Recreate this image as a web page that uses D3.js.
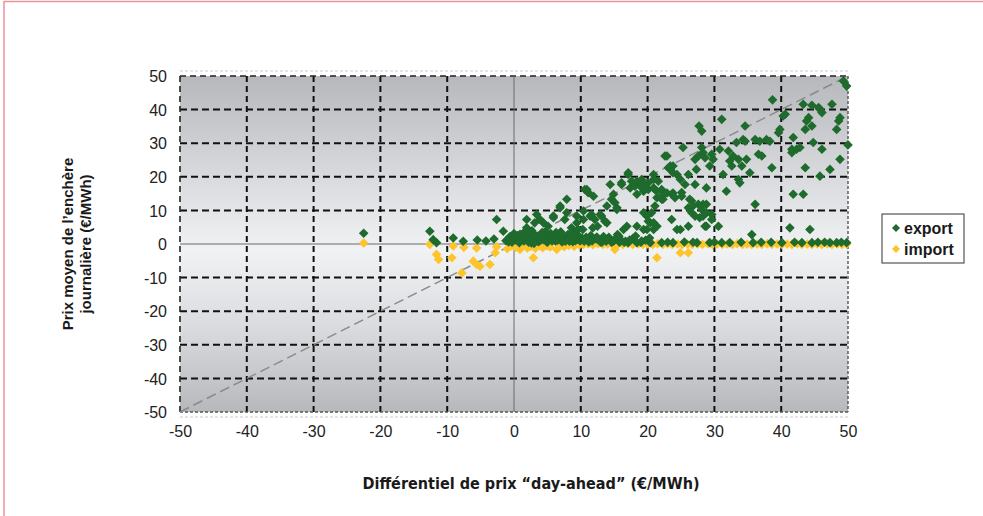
<!DOCTYPE html>
<html>
<head>
<meta charset="utf-8">
<script src="https://cdn.jsdelivr.net/npm/d3@7"></script>
<style>
  html, body { margin: 0; padding: 0; background: #fff; }
  svg { display: block; }
</style>
</head>
<body>
<svg id="chart" width="983" height="516"></svg>
<script>
// Axis ticks
const xTicks = [-50, -40, -30, -20, -10, 0, 10, 20, 30, 40, 50];
const yTicks = [-50, -40, -30, -20, -10, 0, 10, 20, 30, 40, 50];

// Series names and colours
const seriesNames = ["export", "import"];
const seriesColors = ["#1e6b2d", "#fdc42c"];

// export: day-ahead price differential (x) vs mean daily auction price (y)
const exportX = [
  -22.5, -12.6, -12.1, -11.6, -9.1, -7.6, -5.5, -4.2, -3.0, -2.6, -1.6, -1.2, -0.6, -0.3,
  0.2, 0.5, 0.8, 1.0, 1.3, 1.5, 1.9, 1.9, 2.1, 2.4, 2.6, 2.9, 3.1, 3.1, 3.4, 3.5, 3.7, 3.9,
  4.0, 4.2, 4.4, 4.5, 4.8, 5.0, 5.1, 5.3, 5.5, 5.9, 5.9, 6.0, 6.2, 6.4, 6.7, 6.9, 6.9, 7.0,
  7.2, 7.4, 7.6, 7.8, 7.9, 7.9, 8.1, 8.3, 8.6, 8.7, 9.0, 9.2, 9.4, 9.4, 9.6, 9.7, 10.0,
  10.3, 10.4, 10.4, 10.6, 10.9, 11.1, 10.8, 11.4, 11.6, 11.8, 11.9, 12.1, 12.3, 12.5, 12.9,
  13.1, 13.4, 13.6, 13.9, 13.9, 14.4, 14.6, 14.6, 14.9, 15.1, 15.1, 15.4, 15.4, 16.1, 16.1,
  16.4, 16.9, 17.1, 17.1, 17.1, 17.4, 17.6, 18.1, 18.4, 18.4, 18.4, 18.4, 18.9, 19.1, 19.4,
  19.4, 19.4, 19.6, 19.9, 19.9, 20.1, 20.1, 20.1, 20.4, 20.4, 20.6, 20.9, 20.9, 20.9, 20.9,
  20.9, 21.1, 21.1, 21.4, 21.4, 21.4, 21.6, 22.1, 22.1, 22.1, 22.1, 22.3, 22.6, 22.9, 22.9,
  23.1, 23.4, 23.4, 23.6, 23.6, 23.8, 23.8, 23.8, 23.8, 24.1, 24.4, 24.4, 24.9, 24.9, 25.1,
  25.1, 25.3, 25.6, 26.1, 26.1, 26.1, 26.3, 26.6, 26.6, 26.8, 27.1, 27.1, 27.1, 27.3, 27.4,
  27.6, 27.6, 27.7, 27.8, 28.1, 28.1, 28.1, 28.3, 28.3, 28.3, 28.6, 28.6, 28.8, 28.8, 28.8,
  28.8, 29.3, 29.3, 29.6, 29.6, 29.6, 29.8, 30.6, 30.8, 31.1, 31.1, 31.3, 31.8, 32.1, 32.3,
  32.3, 32.6, 32.8, 33.3, 33.6, 33.6, 33.8, 34.1, 34.3, 34.6, 34.6, 34.8, 35.3, 35.6, 35.8,
  36.1, 36.1, 36.6, 36.8, 37.1, 37.8, 38.3, 38.6, 38.7, 39.6, 39.8, 40.1, 40.3, 40.6, 41.3,
  41.6, 41.6, 41.8, 41.8, 42.3, 42.8, 43.1, 43.3, 43.3, 43.6, 43.6, 43.8, 44.1, 44.3, 44.6,
  44.6, 44.6, 44.8, 45.6, 45.8, 45.8, 46.1, 46.1, 47.3, 47.3, 47.6, 48.3, 48.3, 48.6, 48.8,
  48.8, 49.3, 49.8, 49.8, 50.0,
  11.2, 13.0, 15.8, 19.0, 23.0, 25.5, 26.8, 30.0, 34.0, 37.0, 38.5, 42.0, 45.5, 46.5, 49.0,
  10.5, 11.5, 12.8, 13.8, 14.2, 15.5, 16.0, 16.7, 17.8, 19.7,
  -0.8, -0.2, 0.4, 0.7, 1.1, 1.7, 2.2, 2.8, 3.3, 3.6, 4.1, 4.6, 4.9, 5.2, 5.7, 6.1, 6.5,
  6.8, 7.3, 7.7, 8.0, 8.4, 8.8, 9.1, 9.5, 9.9, 0.0, 0.9, 1.6, 2.7, 3.0, 4.7, 5.6, 6.3,
  7.1, 8.5, 9.3, 10.2, 10.9, 11.7, 12.4, 13.2, 14.0, 14.9, 15.7, 16.5, 17.3, 18.2, 19.1, 20.3
];
const exportY = [
  3.2, 3.8, 1.3, 0.4, 1.8, 0.8, 1.2, 0.9, 1.5, 7.3, 3.8, 1.0, 2.2, 0.5,
  1.2, 2.5, 0.4, 1.8, 3.0, 0.9, 7.3, 4.8, 2.2, 1.1, 0.3, 2.9, 6.3, 1.6, 8.8, 2.3, 0.7, 7.3,
  1.9, 3.4, 6.3, 1.2, 2.6, 0.5, 5.3, 1.7, 3.1, 7.8, 8.3, 1.8, 0.9, 2.7, 1.4, 10.8, 11.3, 3.6,
  0.6, 2.1, 7.3, 1.3, 13.3, 9.3, 2.8, 0.8, 4.8, 1.9, 3.2, 1.0, 8.3, 6.3, 4.3, 2.4, 1.2,
  4.3, 9.8, 7.3, 16.2, 16.2, 15.3, 2.0, 8.3, 8.8, 4.8, 14.2, 7.3, 1.5, 5.3, 8.8,
  8.3, 2.2, 6.8, 6.3, 11.3, 17.7, 13.3, 0.5, 14.8, 12.3, 1.4, 10.3, 10.8, 17.7, 18.2,
  4.3, 5.3, 20.7, 21.2, 0.4, 16.7, 18.7, 17.2, 14.8, 18.7, 5.3, 0.4, 17.2, 19.2, 15.7,
  9.3, 4.3, 17.7, 8.3, 4.3, 16.2, 18.2, 6.8, 6.3, 0.4, 9.3, 20.7, 16.7, 4.3, 6.3,
  19.2, 11.3, 16.2, 13.8, 15.7, 5.3, 18.7, 16.2, 13.3, 14.2, 0.4, 13.3, 26.2, 15.2, 26.2,
  22.7, 22.2, 23.2, 7.3, 14.8, 21.2, 15.2, 23.2, 0.4, 13.8, 4.3, 20.7, 19.2, 4.3, 15.3,
  14.2, 28.7, 17.7, 20.7, 10.8, 5.3, 13.3, 12.8, 9.3, 11.3, 17.7, 25.2, 8.3, 22.2, 0.4,
  26.2, 11.8, 35.1, 7.8, 33.6, 28.7, 10.3, 27.2, 8.3, 11.8, 25.7, 5.3, 16.7, 11.8, 9.3,
  5.3, 23.2, 0.4, 26.7, 8.8, 7.3, 25.2, 5.3, 28.2, 37.1, 0.4, 20.7, 15.7, 27.7, 0.4,
  24.7, 23.2, 26.2, 30.2, 25.2, 19.2, 18.2, 23.2, 31.1, 35.1, 30.6, 25.2, 21.2, 2.8, 0.4,
  31.1, 11.8, 26.7, 30.6, 26.2, 31.1, 30.6, 22.7, 42.9, 33.1, 34.1, 0.4, 38.1, 38.6, 4.8,
  27.2, 28.2, 14.8, 31.7, 28.2, 28.7, 0.4, 41.6, 14.8, 34.1, 22.7, 36.6, 37.6, 4.3, 41.3,
  35.1, 0.4, 30.2, 40.6, 40.1, 20.2, 28.2, 39.1, 22.2, 0.4, 41.6, 34.1, 0.4, 36.6, 37.6,
  25.2, 48.5, 47.0, 0.4, 29.5,
  0.6, 0.5, 0.5, 0.5, 0.5, 0.6, 0.5, 0.5, 0.5, 0.5, 0.5, 0.5, 0.5, 0.5, 0.5,
  0.8, 2.5, 1.0, 0.8, 2.0, 2.8, 1.2, 0.8, 1.6, 1.1,
  0.6, 1.7, 2.0, 0.9, 2.6, 1.4, 0.5, 1.6, 2.2, 0.8, 1.3, 2.4, 0.7, 1.9, 0.9, 2.8, 1.1,
  2.0, 1.5, 0.8, 2.6, 1.6, 0.7, 2.0, 1.4, 0.9, 3.1, 2.9, 3.5, 3.9, 0.2, 3.6, 2.3, 3.4,
  2.9, 3.0, 2.7, 1.8, 1.3, 0.9, 2.1, 0.6, 1.5, 0.8, 2.3, 0.5, 1.2, 2.4, 0.9, 1.8
];

// import
const importX = [
  -22.5, -12.6, -11.6, -11.3, -9.3, -9.1, -7.8, -6.1, -5.6, -5.1, -3.6, -2.8, -7.5, -5.6,
  -2.6, -1.0, -0.4, 0.3, 0.9, 1.4, 2.0, 2.5, 2.9, 3.2, 3.8, 4.3, 4.9, 5.4, 6.4, 6.9, 7.5,
  8.2, 9.0, 9.8,
  10.4, 11.1, 11.8, 12.6, 13.3, 14.0, 14.8, 15.1, 15.6, 16.3, 17.0, 17.8, 18.6, 19.3, 20.0,
  20.8, 21.4, 21.5, 22.3, 23.0, 23.7, 24.5, 24.9, 25.2, 26.0, 26.1, 26.7, 27.5, 28.2, 29.0,
  29.7, 30.4, 31.2, 31.9, 32.7, 33.4, 34.2, 34.9, 35.6, 36.4, 37.1, 37.9, 38.6, 39.4, 40.1,
  40.9, 41.6, 42.4, 43.1, 43.9, 44.6, 45.4, 46.1, 46.9, 47.6, 48.4, 49.1, 49.8
];
const importY = [
  0.3, -0.1, -3.1, -4.6, -4.1, -0.6, -8.6, -5.1, -6.1, -6.6, -6.1, -2.6, -1.0, -1.2,
  -0.8, -1.4, -0.6, -1.0, -1.6, -0.5, -1.2, -0.7, -4.1, -1.3, -0.6, -1.1, -0.5, -0.9, -1.6, -0.5, -0.8,
  -0.4, -0.7, -0.3,
  -0.1, 0.0, -0.2, 0.1, -0.1, 0.0, -0.2, -1.6, 0.0, -0.1, 0.1, -0.1, 0.0, -0.1, 0.0,
  -0.1, -4.1, 0.1, -0.1, 0.0, -0.1, 0.0, -2.6, -0.1, 0.0, -2.6, -0.1, 0.0, -0.1, 0.1,
  -0.1, 0.0, -0.1, 0.0, -0.1, 0.1, -0.1, 0.0, -0.1, 0.0, -0.1, 0.1, -0.1, 0.0, -0.1,
  0.0, -0.1, 0.1, -0.1, 0.0, -0.1, 0.0, -0.1, 0.1, -0.1, 0.0, -0.1, 0.0
];

const svg = d3.select("#chart");

// page frame
svg.append("line").attr("x1", 4).attr("y1", 1.5).attr("x2", 983).attr("y2", 1.5)
  .attr("stroke", "#e8929b").attr("stroke-width", 1.5);
svg.append("line").attr("x1", 4).attr("y1", 1).attr("x2", 4).attr("y2", 516)
  .attr("stroke", "#e8929b").attr("stroke-width", 1.5);

const plot = { left: 180, right: 848, top: 76, bottom: 412 };

const x = d3.scaleLinear().domain([-50, 50]).range([plot.left, plot.right]);
const y = d3.scaleLinear().domain([-50, 50]).range([plot.bottom, plot.top]);

// vertical gradient background of the plot area
const defs = svg.append("defs");
const grad = defs.append("linearGradient").attr("id", "bg")
  .attr("x1", 0).attr("y1", 0).attr("x2", 0).attr("y2", 1);
grad.append("stop").attr("offset", "0%").attr("stop-color", "#b6b8bc");
grad.append("stop").attr("offset", "30%").attr("stop-color", "#d8dadd");
grad.append("stop").attr("offset", "52%").attr("stop-color", "#f1f2f4");
grad.append("stop").attr("offset", "75%").attr("stop-color", "#dadbde");
grad.append("stop").attr("offset", "100%").attr("stop-color", "#b6b8bc");

// faint shadow strokes outside the plot
svg.append("line").attr("x1", plot.left).attr("x2", plot.right + 2)
  .attr("y1", plot.top - 5).attr("y2", plot.top - 5)
  .attr("stroke", "#e4e4e6").attr("stroke-width", 2).attr("stroke-dasharray", "3,2");
svg.append("line").attr("x1", plot.left).attr("x2", plot.right + 2)
  .attr("y1", plot.bottom + 5).attr("y2", plot.bottom + 5)
  .attr("stroke", "#e4e4e6").attr("stroke-width", 2).attr("stroke-dasharray", "3,2");

svg.append("rect")
  .attr("x", plot.left).attr("y", plot.top)
  .attr("width", plot.right - plot.left).attr("height", plot.bottom - plot.top)
  .attr("fill", "url(#bg)");

// dashed grid
const grid = svg.append("g");
grid.selectAll("line.v").data(xTicks.filter(d => d !== 0 && d !== -50 && d !== 50)).join("line")
  .attr("x1", d => x(d)).attr("x2", d => x(d))
  .attr("y1", plot.top).attr("y2", plot.bottom)
  .attr("stroke", "#111").attr("stroke-width", 2).attr("stroke-dasharray", "6,4");
grid.selectAll("line.h").data(yTicks.filter(d => d !== 0 && d !== -50 && d !== 50)).join("line")
  .attr("y1", d => y(d)).attr("y2", d => y(d))
  .attr("x1", plot.left).attr("x2", plot.right)
  .attr("stroke", "#111").attr("stroke-width", 2).attr("stroke-dasharray", "7,4");

// plot outline
svg.append("line").attr("x1", plot.left).attr("x2", plot.right)
  .attr("y1", plot.top).attr("y2", plot.top)
  .attr("stroke", "#222").attr("stroke-width", 1.6).attr("stroke-dasharray", "6,4");
svg.append("line").attr("x1", plot.left).attr("x2", plot.left)
  .attr("y1", plot.top).attr("y2", plot.bottom)
  .attr("stroke", "#222").attr("stroke-width", 1.6).attr("stroke-dasharray", "6,4");
svg.append("line").attr("x1", plot.right).attr("x2", plot.right)
  .attr("y1", plot.top).attr("y2", plot.bottom)
  .attr("stroke", "#555").attr("stroke-width", 1.4).attr("stroke-dasharray", "3,2");
svg.append("line").attr("x1", plot.left).attr("x2", plot.right)
  .attr("y1", plot.bottom).attr("y2", plot.bottom)
  .attr("stroke", "#555").attr("stroke-width", 1.4).attr("stroke-dasharray", "3,2");

// zero axes
svg.append("line").attr("x1", x(0)).attr("x2", x(0))
  .attr("y1", plot.top).attr("y2", plot.bottom)
  .attr("stroke", "#6b6b6b").attr("stroke-width", 1);
svg.append("line").attr("x1", plot.left).attr("x2", plot.right)
  .attr("y1", y(0)).attr("y2", y(0))
  .attr("stroke", "#6b6b6b").attr("stroke-width", 1);

// y = x reference line
svg.append("line")
  .attr("x1", x(-50)).attr("y1", y(-50)).attr("x2", x(50)).attr("y2", y(50))
  .attr("stroke", "#8a8a8a").attr("stroke-width", 1.5).attr("stroke-dasharray", "10,5");

// diamond markers
const diamond = "M0,-4.8L4.8,0L0,4.8L-4.8,0Z";
const importPts = importX.map((v, i) => [v, importY[i]]);
const exportPts = exportX.map((v, i) => [v, exportY[i]]);

svg.append("g").selectAll("path").data(importPts).join("path")
  .attr("d", diamond)
  .attr("transform", d => `translate(${x(d[0])},${y(d[1])})`)
  .attr("fill", seriesColors[1]);
svg.append("g").selectAll("path").data(exportPts).join("path")
  .attr("d", diamond)
  .attr("transform", d => `translate(${x(d[0])},${y(d[1])})`)
  .attr("fill", seriesColors[0]);

// axes tick labels (plain hyphen for negatives)
const tickFmt = d => String(d);
const xAxis = d3.axisBottom(x).tickValues(xTicks).tickFormat(tickFmt).tickSize(0).tickPadding(0);
const gx = svg.append("g").attr("transform", `translate(0,${plot.bottom + 20})`).call(xAxis);
gx.select(".domain").remove();
gx.selectAll("text")
  .attr("font-family", "'Liberation Sans', Arial, sans-serif")
  .attr("font-size", 16).attr("fill", "#222").attr("dy", "0.3em");

const yAxis = d3.axisLeft(y).tickValues(yTicks).tickFormat(tickFmt).tickSize(0).tickPadding(0);
const gy = svg.append("g").attr("transform", `translate(${plot.left - 13},0)`).call(yAxis);
gy.select(".domain").remove();
gy.selectAll("text")
  .attr("font-family", "'Liberation Sans', Arial, sans-serif")
  .attr("font-size", 16).attr("fill", "#222").attr("dy", "0.35em");

// axis titles
svg.append("text")
  .attr("x", 531).attr("y", 489)
  .attr("text-anchor", "middle")
  .attr("font-family", "'Liberation Sans Narrow', 'DejaVu Sans Condensed', sans-serif")
  .attr("font-weight", "bold").attr("font-size", 16).attr("fill", "#1a1a1a")
  .attr("textLength", 337).attr("lengthAdjust", "spacingAndGlyphs")
  .text("Différentiel de prix “day-ahead” (€/MWh)");

const yTitle = svg.append("g").attr("transform", "translate(75,244) rotate(-90)");
yTitle.append("text")
  .attr("x", 0).attr("y", -2)
  .attr("text-anchor", "middle")
  .attr("font-family", "'Liberation Sans', Arial, sans-serif")
  .attr("font-weight", "bold").attr("font-size", 15).attr("fill", "#1a1a1a")
  .text("Prix moyen de l’enchère");
yTitle.append("text")
  .attr("x", 0).attr("y", 16)
  .attr("text-anchor", "middle")
  .attr("font-family", "'Liberation Sans', Arial, sans-serif")
  .attr("font-weight", "bold").attr("font-size", 15).attr("fill", "#1a1a1a")
  .text("journalière (€/MWh)");

// legend
const legend = svg.append("g").attr("transform", "translate(882,214)");
legend.append("rect").attr("width", 82).attr("height", 49)
  .attr("fill", "#fff").attr("stroke", "#333").attr("stroke-width", 1);
seriesNames.forEach((name, i) => {
  const row = legend.append("g").attr("transform", `translate(0,${14 + i * 21})`);
  row.append("path").attr("d", "M0,-4L4,0L0,4L-4,0Z")
    .attr("transform", "translate(14,0)").attr("fill", seriesColors[i]);
  row.append("text").attr("x", 22).attr("y", 5.5)
    .attr("font-family", "'Liberation Sans', Arial, sans-serif")
    .attr("font-weight", "bold").attr("font-size", 16).attr("fill", "#1a1a1a")
    .text(name);
});
</script>
</body>
</html>
